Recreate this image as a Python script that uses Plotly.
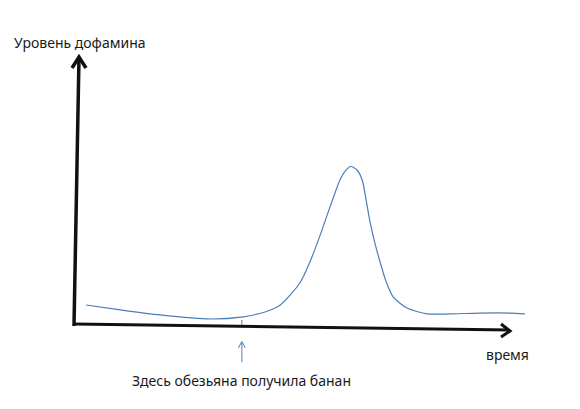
import plotly.graph_objects as go

# ---- data (time units, dopamine level units) ----
curve_time = [0.28, 1.06, 1.97, 3.12, 3.88, 4.38, 4.73, 5.18, 5.41, 5.64, 5.87,
              6.10, 6.22, 6.35, 6.49, 6.61, 6.70, 6.79, 6.90, 7.02, 7.16, 7.32,
              7.64, 8.10, 8.62, 9.31, 10.0, 10.34]
curve_level = [0.78, 0.60, 0.41, 0.26, 0.34, 0.52, 0.78, 1.60, 2.38, 3.35, 4.42,
               5.43, 5.76, 5.93, 5.80, 5.43, 4.68, 3.87, 3.09, 2.38, 1.64, 1.08,
               0.67, 0.45, 0.45, 0.48, 0.48, 0.45]
banana_time = 3.85          # moment the monkey got the banana
axis_time_max = 10.0
axis_level_max = 10.0

y_title = "Уровень дофамина"
x_title = "время"
event_label = "Здесь обезьяна получила банан"

# ---- page geometry (pixel mapping); page body has an 8px margin ----
OFF = 8
W, H = 580 - 2 * OFF, 409 - 2 * OFF
PX0, PY0 = 74 - OFF, 326 - OFF   # pixel of origin inside the figure
SX, SY = 43.6, 26.9              # pixels per unit


def dx(px):
    return px / SX


def dy(px):
    return px / SY


AX = "#111111"
BLUE = "#4a7ebb"
FONT = "Noto Sans"

fig = go.Figure()

# curve
fig.add_trace(go.Scatter(x=curve_time, y=curve_level, mode="lines",
                         line=dict(color=BLUE, width=1.2, shape="spline", smoothing=0.7),
                         hoverinfo="skip"))

# x axis with chevron
fig.add_trace(go.Scatter(x=[0, axis_time_max], y=[dy(2), dy(-4)], mode="lines",
                         line=dict(color=AX, width=3), hoverinfo="skip"))
fig.add_trace(go.Scatter(x=[axis_time_max - dx(9), axis_time_max, axis_time_max - dx(9)],
                         y=[dy(2), dy(-5), dy(-11)], mode="lines",
                         line=dict(color=AX, width=3), hoverinfo="skip"))
# y axis with chevron
fig.add_trace(go.Scatter(x=[0, dx(5)], y=[0, axis_level_max], mode="lines",
                         line=dict(color=AX, width=3.5), hoverinfo="skip"))
fig.add_trace(go.Scatter(x=[dx(-2), dx(5), dx(12)],
                         y=[axis_level_max - dy(11), axis_level_max, axis_level_max - dy(11)],
                         mode="lines", line=dict(color=AX, width=3.5), hoverinfo="skip"))

# small tick at banana time
fig.add_trace(go.Scatter(x=[banana_time, banana_time], y=[dy(6), dy(1)], mode="lines",
                         line=dict(color=BLUE, width=1), hoverinfo="skip"))
# up arrow below the axis
fig.add_trace(go.Scatter(x=[banana_time, banana_time], y=[dy(-36), dy(-16)], mode="lines",
                         line=dict(color=BLUE, width=1), hoverinfo="skip"))
fig.add_trace(go.Scatter(x=[banana_time - dx(3.5), banana_time, banana_time + dx(3.5)],
                         y=[dy(-22), dy(-15.5), dy(-22)], mode="lines",
                         line=dict(color=BLUE, width=1), hoverinfo="skip"))


def px_x(px):
    return (px - OFF) / W


def px_y(py):
    return 1 - (py - OFF) / H


annots = [
    dict(text=y_title, x=px_x(12), y=px_y(43)),
    dict(text=x_title, x=px_x(484), y=px_y(354)),
    dict(text=event_label, x=px_x(130), y=px_y(380)),
]
for a in annots:
    fig.add_annotation(xref="paper", yref="paper", showarrow=False,
                       xanchor="left", yanchor="middle",
                       font=dict(family=FONT, size=14, color="#1a1a1a"), **a)

fig.update_layout(
    width=W, height=H, autosize=False,
    margin=dict(l=0, r=0, t=0, b=0),
    paper_bgcolor="white", plot_bgcolor="white",
    showlegend=False,
    xaxis=dict(range=[-PX0 / SX, (W - PX0) / SX], visible=False, fixedrange=True),
    yaxis=dict(range=[(PY0 - H) / SY, PY0 / SY], visible=False, fixedrange=True),
)

fig.write_html("out.html", config={"displayModeBar": False})
